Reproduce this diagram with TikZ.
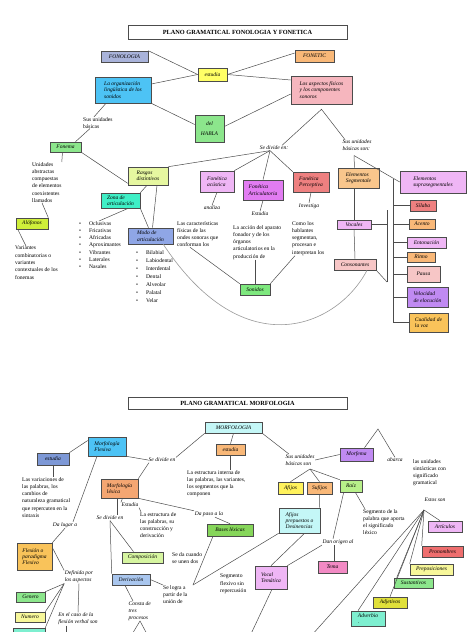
\documentclass[tikz,border=0pt]{standalone}
\usepackage{fontspec}
\setmainfont{Liberation Serif}
\usetikzlibrary{positioning}
\definecolor{cSlate}{HTML}{A9B3DA}
\definecolor{cYel}{HTML}{FFFF66}
\definecolor{cOra}{HTML}{F9B878}
\definecolor{cSky}{HTML}{4DC3F5}
\definecolor{cRose}{HTML}{F6B6BE}
\definecolor{cGreen}{HTML}{8CE68C}
\definecolor{cLime}{HTML}{E6F7A0}
\definecolor{cTurq}{HTML}{3FEFC6}
\definecolor{cChart}{HTML}{CFEF3A}
\definecolor{cPeri}{HTML}{8FA6E6}
\definecolor{cLilac}{HTML}{EFB6F5}
\definecolor{cMagenta}{HTML}{E27CF2}
\definecolor{cSalmon}{HTML}{EE8080}
\definecolor{cPeach}{HTML}{F9C68C}
\definecolor{cBlush}{HTML}{F7C6C6}
\definecolor{cPurple}{HTML}{C08AF2}
\definecolor{cGold}{HTML}{F9C35A}
\definecolor{cAqua}{HTML}{C4F7F7}
\definecolor{cBlue}{HTML}{7D98D6}
\definecolor{cCoral}{HTML}{F4A672}
\definecolor{cPaleLime}{HTML}{D6F5A0}
\definecolor{cPaleBlue}{HTML}{A9C6EE}
\definecolor{cBases}{HTML}{86D65A}
\definecolor{cPink}{HTML}{F28AC4}
\definecolor{cRed}{HTML}{EE6E6E}
\definecolor{cPaleYel}{HTML}{F7F79A}
\definecolor{cOlive}{HTML}{E0E03A}
\definecolor{cMint}{HTML}{7EEFD0}
\definecolor{cRaiz}{HTML}{B8F08A}

\begin{document}
\begin{tikzpicture}[x=1pt,y=-1pt,
  box/.style={draw=black!70,line width=0.6pt,inner sep=1pt,align=left,font=\fontsize{5.5}{6.3}\selectfont\itshape},
  head/.style={draw=black!70,line width=0.6pt,fill=white,font=\fontsize{6.3}{7}\selectfont\bfseries},
  desc/.style={anchor=north west,inner sep=0pt,align=left,font=\fontsize{5.6}{7.3}\selectfont},
  lbl/.style={inner sep=0.5pt,align=left,font=\fontsize{5.5}{6.8}\selectfont\itshape},
  link/.style={draw=black!70,line width=0.5pt},
  arc/.style={draw=gray!80,line width=0.6pt}
]
\useasboundingbox (0,0) rectangle (474,632);
\clip (0,0) rectangle (474,632);
\fill[white] (0,0) rectangle (474,632);

\node[head,minimum width=219pt,minimum height=14pt] (title1) at (237.5,32) {PLANO GRAMATICAL FONOLOGIA Y FONETICA};

\node[box,fill=cSlate,minimum width=47pt,minimum height=11pt] (fonol) at (124.5,56.5) {FONOLOGIA};
\node[box,fill=cYel,minimum width=29pt,minimum height=13pt] (estA) at (212.5,74.5) {estudia};
\node[box,fill=cSky,minimum width=56pt,minimum height=26pt] (organiz) at (123,90) {La organización\\lingüística de los\\sonidos};
\node[box,fill=cOra,minimum width=39pt,minimum height=12pt] (fonetic) at (314.5,56) {FONETIC};
\node[box,fill=cRose,minimum width=61pt,minimum height=28pt] (aspectos) at (321.5,90) {Los aspectos físicos\\y los componentes\\sonoros};
\node[box,fill=cGreen,minimum width=29pt,minimum height=27pt,align=center] (habla) at (209.5,128.5) {del\\[3pt]HABLA};

\node[desc] (susA) at (83,117) {Sus unidades\\básicas};
\node[box,fill=cGreen,minimum width=31pt,minimum height=10pt] (fonema) at (65.5,147) {Fonema};
\node[desc] (unid) at (32,162) {Unidades\\abstractas\\compuestas\\de elementos\\coexistentes\\llamados};
\node[box,fill=cChart,minimum width=32pt,minimum height=11pt] (alof) at (32,223.5) {Alófonos};
\node[desc] (variantes) at (15,246) {Variantes\\combinatorias o\\variantes\\contextuales de los\\fonemas};

\node[box,fill=cLime,minimum width=40pt,minimum height=18pt] (rasgos) at (148,176) {Rasgos\\distintivos};
\node[box,fill=cTurq,minimum width=39pt,minimum height=15pt] (zona) at (120.5,200.5) {Zona de\\articulación};
\node[desc] (listA) at (79,221) {\makebox[10pt][l]{\textbullet}Oclusivas\\\makebox[10pt][l]{\textbullet}Fricativas\\\makebox[10pt][l]{\textbullet}Africadas\\\makebox[10pt][l]{\textbullet}Aproximantes\\\makebox[10pt][l]{\textbullet}Vibrantes\\\makebox[10pt][l]{\textbullet}Laterales\\\makebox[10pt][l]{\textbullet}Nasales};
\node[box,fill=cPeri,minimum width=45pt,minimum height=16pt] (modo) at (150.5,236) {Modo de\\articulación};
\node[desc,font=\fontsize{5.6}{8}\selectfont] (listB) at (136,250) {\makebox[10pt][l]{\textbullet}Bilabial\\\makebox[10pt][l]{\textbullet}Labiodental\\\makebox[10pt][l]{\textbullet}Interdental\\\makebox[10pt][l]{\textbullet}Dental\\\makebox[10pt][l]{\textbullet}Alveolar\\\makebox[10pt][l]{\textbullet}Palatal\\\makebox[10pt][l]{\textbullet}Velar};

\node[lbl] (divA) at (274,148) {Se divide en:};
\node[lbl] (susB) at (357,145.5) {Sus unidades\\básicas son:};

\node[box,fill=cLilac,minimum width=34pt,minimum height=21pt] (acust) at (217,181.5) {Fonética\\acústica};
\node[lbl] (analiza) at (212,208) {analiza};
\node[desc] (carac) at (177,221) {Las características\\físicas de las\\ondes sonoras que\\conforman los};
\node[box,fill=cMagenta,minimum width=40pt,minimum height=20pt] (artic) at (263,190) {Fonética\\Articulatoria};
\node[lbl] (estB) at (260,214) {Estudia};
\node[desc] (accion) at (233,225) {La acción del aparato\\fonador y de los\\órganos\\articulatorios en la\\producción de};
\node[box,fill=cSalmon,minimum width=36pt,minimum height=20pt] (percep) at (311,182) {Fonética\\Perceptiva};
\node[lbl] (invest) at (309,206) {Investiga};
\node[desc] (como) at (292,221) {Como los\\hablantes\\segmentan,\\procesan e\\interpretan los};
\node[box,fill=cGreen!90!green,minimum width=30pt,minimum height=11pt] (sonidos) at (255,289.5) {Sonidos};

\node[box,fill=cPeach,minimum width=41pt,minimum height=20pt] (segm) at (358.5,178) {Elementos\\Segmentale};
\node[box,fill=cLilac,minimum width=66pt,minimum height=22pt] (supra) at (433,182) {Elementos\\suprasegmentales};
\node[box,fill=cLilac,minimum width=34pt,minimum height=9pt] (vocales) at (354,224.5) {Vocales};
\node[box,fill=cBlush,minimum width=42pt,minimum height=11pt] (conson) at (355,264.5) {Consonantes};
\node[box,fill=cSalmon,minimum width=26pt,minimum height=11pt] (silaba) at (423,205.5) {Sílaba};
\node[box,fill=cOra,minimum width=26pt,minimum height=10pt] (acento) at (422,224) {Acento};
\node[box,fill=cLilac,minimum width=39pt,minimum height=11pt] (enton) at (426.5,242.5) {Entonación};
\node[box,fill=cOra,minimum width=28pt,minimum height=10pt] (ritmo) at (421,257) {Ritmo};
\node[box,fill=cBlush,minimum width=33pt,minimum height=16pt] (pausa) at (423.5,274) {Pausa};
\node[box,fill=cPurple,minimum width=41pt,minimum height=20pt] (veloc) at (427.5,297) {Velocidad\\de elocución};
\node[box,fill=cGold,minimum width=39pt,minimum height=19pt] (cualid) at (428.5,322.5) {Cualidad de\\la voz};

\draw[link] (fonol.north east) -- (estA.west);
\draw[link] (estA.west) -- ([yshift=6pt]organiz.east);
\draw[link] (estA.east) -- ([yshift=3pt]fonetic.west);
\draw[link] (estA.east) -- ([yshift=10pt]aspectos.west);
\draw[link] (organiz.south east) -- ([yshift=4pt]habla.west);
\draw[link] ([yshift=2pt]habla.east) -- ([yshift=-4pt]aspectos.west);
\coordinate (apexA) at ([yshift=-5pt]aspectos.south);
\draw[link] ([xshift=8pt]divA.north) -- (apexA) -- ([xshift=3pt]susB.north west);
\draw[link] ([xshift=-17pt]organiz.south) -- ([xshift=-4pt]susA.north);
\draw[link] ([xshift=-8pt]susA.south) -- ([xshift=10pt]fonema.north);
\draw[link] (fonema.south east) -- ([yshift=2pt]rasgos.south west);
\draw[link] ([xshift=-3pt]fonema.south) -- (unid.north east);
\draw[link] ([xshift=10pt]unid.south west) -- (alof.north east);
\draw[link] ([xshift=2pt]alof.south west) -- ([xshift=11pt]variantes.north west);
\draw[link] ([xshift=-1pt]rasgos.south) -- (zona.north east);
\draw[link] ([xshift=-12pt]zona.south east) -- ([xshift=20pt]listA.north west);
\draw[link] (zona.south east) -- ([xshift=-2pt]modo.north);
\draw[link] ([xshift=9pt]rasgos.south) -- ([xshift=2pt]modo.north);
\draw[arc] ([xshift=-10pt]modo.south east) .. controls (245,368) and (338,326) .. ([xshift=12pt]conson.south);

\coordinate (apexB) at ([xshift=-4pt]divA.south);
\draw[link] (apexB) -- (rasgos.north east);
\draw[link] (apexB) -- (acust.north east);
\draw[link] (apexB) -- (artic.north);
\draw[link] (apexB) -- (percep.north west);
\draw[link] (acust.south) -- (analiza.north);
\draw[link] ([xshift=13pt]carac.south west) -- (sonidos.north west);
\draw[link] (artic.south) -- (estB.north);
\draw[link] ([xshift=22pt]accion.south west) -- (sonidos.north);
\draw[link] ([xshift=3pt]como.south west) -- (sonidos.north east);
\draw[link] (percep.south) -- (invest.north);

\coordinate (apexC) at ([xshift=-3pt,yshift=-4pt]susB.south);
\draw[link] (apexC) -- ([xshift=-4pt]segm.north);
\draw[link] (apexC) -- (supra.west);
\coordinate (brkS) at (393,179);
\draw[link] (brkS) -- (brkS |- cualid.west);
\foreach \n in {silaba,acento,enton,ritmo,pausa,veloc,cualid}
  \draw[link] (brkS |- \n.west) -- (\n.west);
\draw[link] ([xshift=-4pt]segm.south) -- ([xshift=-4pt]segm.south |- vocales.north);
\draw[link] (vocales.south) -- (conson.north);
\coordinate (brkV) at (387,210);
\coordinate (brkW) at (387,282);
\draw[link] (brkV) -- (brkW);
\draw[link] (vocales.east) -- (vocales.east -| brkV);
\draw[link] (conson.south east) -- (brkW);

\node[head,minimum width=219pt,minimum height=12pt] (title2) at (237.5,403) {PLANO GRAMATICAL MORFOLOGIA};

\node[box,fill=cAqua,minimum width=57pt,minimum height=11pt] (morfo) at (233.5,427.5) {MORFOLOGIA};
\node[box,fill=cOra,minimum width=29pt,minimum height=11pt] (estC) at (230.5,449.5) {estudia};
\node[desc] (estr) at (187,470) {La estructura interna de\\las palabras, las variantes,\\los segmentos que la\\componen};
\node[lbl] (divB) at (162,460) {Se divide en};
\node[lbl] (susC) at (300,460) {Sus unidades\\básicas son};
\node[box,fill=cPurple,minimum width=33pt,minimum height=13pt] (morfema) at (356.5,454.5) {Morfema};
\node[lbl] (abarca) at (395,460) {abarca};
\node[desc] (sint) at (413,459) {las unidades\\sintácticas con\\significado\\gramatical};
\node[lbl] (estos) at (435,500) {Estos son};

\node[box,fill=cYel!90!orange,minimum width=25pt,minimum height=12pt] (afijos) at (290.5,488) {Afijos};
\node[box,fill=cOra,minimum width=25pt,minimum height=12pt] (sufijos) at (319.5,488) {Sufijos};
\node[box,fill=cRaiz,minimum width=22pt,minimum height=12pt] (raiz) at (351,486) {Raíz};
\node[box,fill=cAqua,minimum width=41pt,minimum height=25pt] (afprep) at (299.5,520.5) {Afijos\\prepuestos o\\Desinencias};
\node[desc] (seglex) at (363,509) {Segmento de la\\palabra que aporta\\el significado\\léxico};
\node[lbl] (danor) at (338,542) {Dan origen al};
\node[box,fill=cPink,minimum width=29pt,minimum height=12pt] (tema) at (332.5,567) {Tema};
\node[box,fill=cLilac,minimum width=32pt,minimum height=23pt] (vocal) at (271,577.5) {Vocal\\Temática};

\node[box,fill=cSky,minimum width=38pt,minimum height=19pt] (flexiva) at (107,446.5) {Morfología\\Flexiva};
\node[box,fill=cBlue,minimum width=32pt,minimum height=12pt] (estD) at (53,459) {estudia};
\node[desc] (variac) at (22,477) {Las variaciones de\\las palabras, los\\cambios de\\naturaleza gramatical\\que repercuten en la\\sintaxis};
\node[lbl] (dalugar) at (65,525) {Da lugar a};
\node[box,fill=cGold,minimum width=35pt,minimum height=27pt] (flexion) at (34.5,556.5) {Flexión o\\paradigma\\Flexivo};
\node[lbl] (defin) at (79,577) {Definida por\\los aspectos};
\node[box,fill=cGreen,minimum width=29pt,minimum height=10pt] (genero) at (30.5,597) {Genero};
\node[box,fill=cPaleYel,minimum width=30pt,minimum height=10pt] (numero) at (30,617) {Numero};
\node[box,fill=cMint,minimum width=32pt,minimum height=14pt] (flexc) at (29,635) {};
\node[lbl] (encaso) at (78,619) {En el caso de la\\flexión verbal son};

\node[box,fill=cCoral,minimum width=37pt,minimum height=19pt] (lexica) at (119.5,488.5) {Morfología\\léxica};
\node[lbl] (estE) at (130,505) {Estudia};
\node[desc] (constr) at (140,512) {La estructura de\\las palabras, su\\construcción y\\derivación};
\node[lbl] (dapaso) at (209,514) {Da paso a la};
\node[box,fill=cBases,minimum width=46pt,minimum height=12pt] (bases) at (230,530) {Bases léxicas};
\node[lbl] (divC) at (110,518) {Se divide en};
\node[box,fill=cPaleLime,minimum width=41pt,minimum height=11pt] (compos) at (142.5,557.5) {Composición};
\node[desc] (seda) at (172,552) {Se da cuando\\se unen dos};
\node[box,fill=cPaleBlue,minimum width=38pt,minimum height=11pt] (deriv) at (131,579.5) {Derivación};
\node[desc] (logra) at (163,585) {Se logra a\\partir de la\\unión de};
\node[desc] (segflex) at (220,574) {Segmento\\flexivo sin\\repercusión};
\node[lbl,anchor=north west] (consta) at (128,601) {Consta de\\tres\\procesos};

\node[box,fill=cLilac,minimum width=34pt,minimum height=11pt] (articulo) at (445,526.5) {Artículos};
\node[box,fill=cRed,minimum width=41pt,minimum height=11pt] (pronom) at (442.5,551.5) {Pronombres};
\node[box,fill=cPaleYel,minimum width=43pt,minimum height=11pt] (prepos) at (431.5,569.5) {Preposiciones};
\node[box,fill=cGreen,minimum width=39pt,minimum height=10pt] (sustant) at (413.5,583) {Sustantivos};
\node[box,fill=cOlive,minimum width=34pt,minimum height=11pt] (adjet) at (390,602.5) {Adjetivos};
\node[box,fill=cMint,minimum width=34pt,minimum height=15pt] (adverb) at (368,618.5) {Adverbio\\.};

\draw[link] (morfo.south) -- (estC.north);
\draw[link] (estC.south) -- (estC.south |- estr.north);
\draw[link] (morfo.south west) -- (divB.north east);
\draw[link] (morfo.south east) -- ([xshift=4pt]susC.north west);
\draw[link] (susC.east) -- (morfema.west);
\coordinate (peakM) at (378,429);
\draw[link] ([xshift=8pt]morfema.north) -- (peakM) -- (abarca.north);
\coordinate (apexD) at (310,469);
\draw[link] (apexD) -- (afijos.north);
\draw[link] (apexD) -- (sufijos.north);
\draw[link] (apexD) -- (raiz.north west);
\draw[link] (sufijos.south) -- ([xshift=-1pt]afprep.north east);
\draw[link] ([xshift=4pt]raiz.south west) -- ([xshift=-5pt]danor.north);
\draw[link] ([xshift=-7pt]raiz.south east) -- ([xshift=2pt]seglex.north west);
\draw[link] ([xshift=-4pt]danor.south) -- ([xshift=1.5pt]tema.north);
\draw[link] (danor.south west) -- (vocal.north east);
\draw[link] ([xshift=5pt]afprep.south) -- (vocal.north);
\coordinate (offV) at (250,636);
\draw[link] ([xshift=1pt]vocal.south) -- (offV);
\draw[link] ([xshift=30pt]logra.north west) -- ([xshift=-17pt]bases.south);
\draw[link] ([xshift=30pt]logra.north west) -- (afprep.south west);

\draw[link] ([yshift=6pt]flexiva.west) -- (estD.north east);
\draw[link] (flexiva.south east) -- (divB.west);
\draw[link] (estD.south) -- (estD.south |- variac.north);
\draw[link] ([xshift=-10pt]flexiva.south) -- ([xshift=8pt]dalugar.north);
\draw[link] (dalugar.south) -- (flexion.north east);
\draw[link] ([yshift=9pt]flexion.east) -- (defin.north west);
\draw[link] (defin.south west) -- (genero.north east);
\draw[link] (defin.south west) -- (numero.north east);
\draw[link] (defin.south west) -- (flexc.north east);
\draw[link] (defin.south) -- (encaso.north);
\coordinate (offE) at (66,636);
\draw[link] ([xshift=-12pt]encaso.south) -- (offE);

\draw[link] ([xshift=1pt]divB.south west) -- (lexica.north east);
\draw[link] ([xshift=-2.5pt]lexica.south) -- ([xshift=7pt]divC.north);
\draw[link] ([xshift=3pt]lexica.south) -- (estE.north west);
\draw[link] (estE.south east) -- ([xshift=1pt]constr.north west);
\draw[link] (lexica.south east) -- (dapaso.north west);
\draw[link] ([xshift=6pt]dapaso.south) -- (bases.north);
\draw[link] (divC.south) -- ([xshift=-9pt]compos.north);
\draw[link] (divC.south) -- (deriv.north west);
\draw[link] (deriv.east) -- (logra.north west);
\draw[link] ([xshift=-6pt]deriv.south) -- ([xshift=5pt]consta.north west);
\coordinate (offC1) at (131,636);
\coordinate (offC2) at (148,636);
\draw[link] ([xshift=12pt]consta.south west) -- (offC1);
\draw[link] ([xshift=12pt]consta.south west) -- (offC2);

\coordinate (apexE) at (424,510);
\draw[link] (apexE) -- ([xshift=-5pt]articulo.north);
\draw[link] (apexE) -- (pronom.north west);
\draw[link] (apexE) -- (prepos.north west);
\draw[link] (apexE) -- ([xshift=3pt]sustant.north west);
\draw[link] (apexE) -- (adjet.north);
\draw[link] (apexE) -- ([xshift=-10pt]adverb.north);
\coordinate (offW) at (311,636);
\draw[link] (apexE) -- (offW);
\end{tikzpicture}
\end{document}
